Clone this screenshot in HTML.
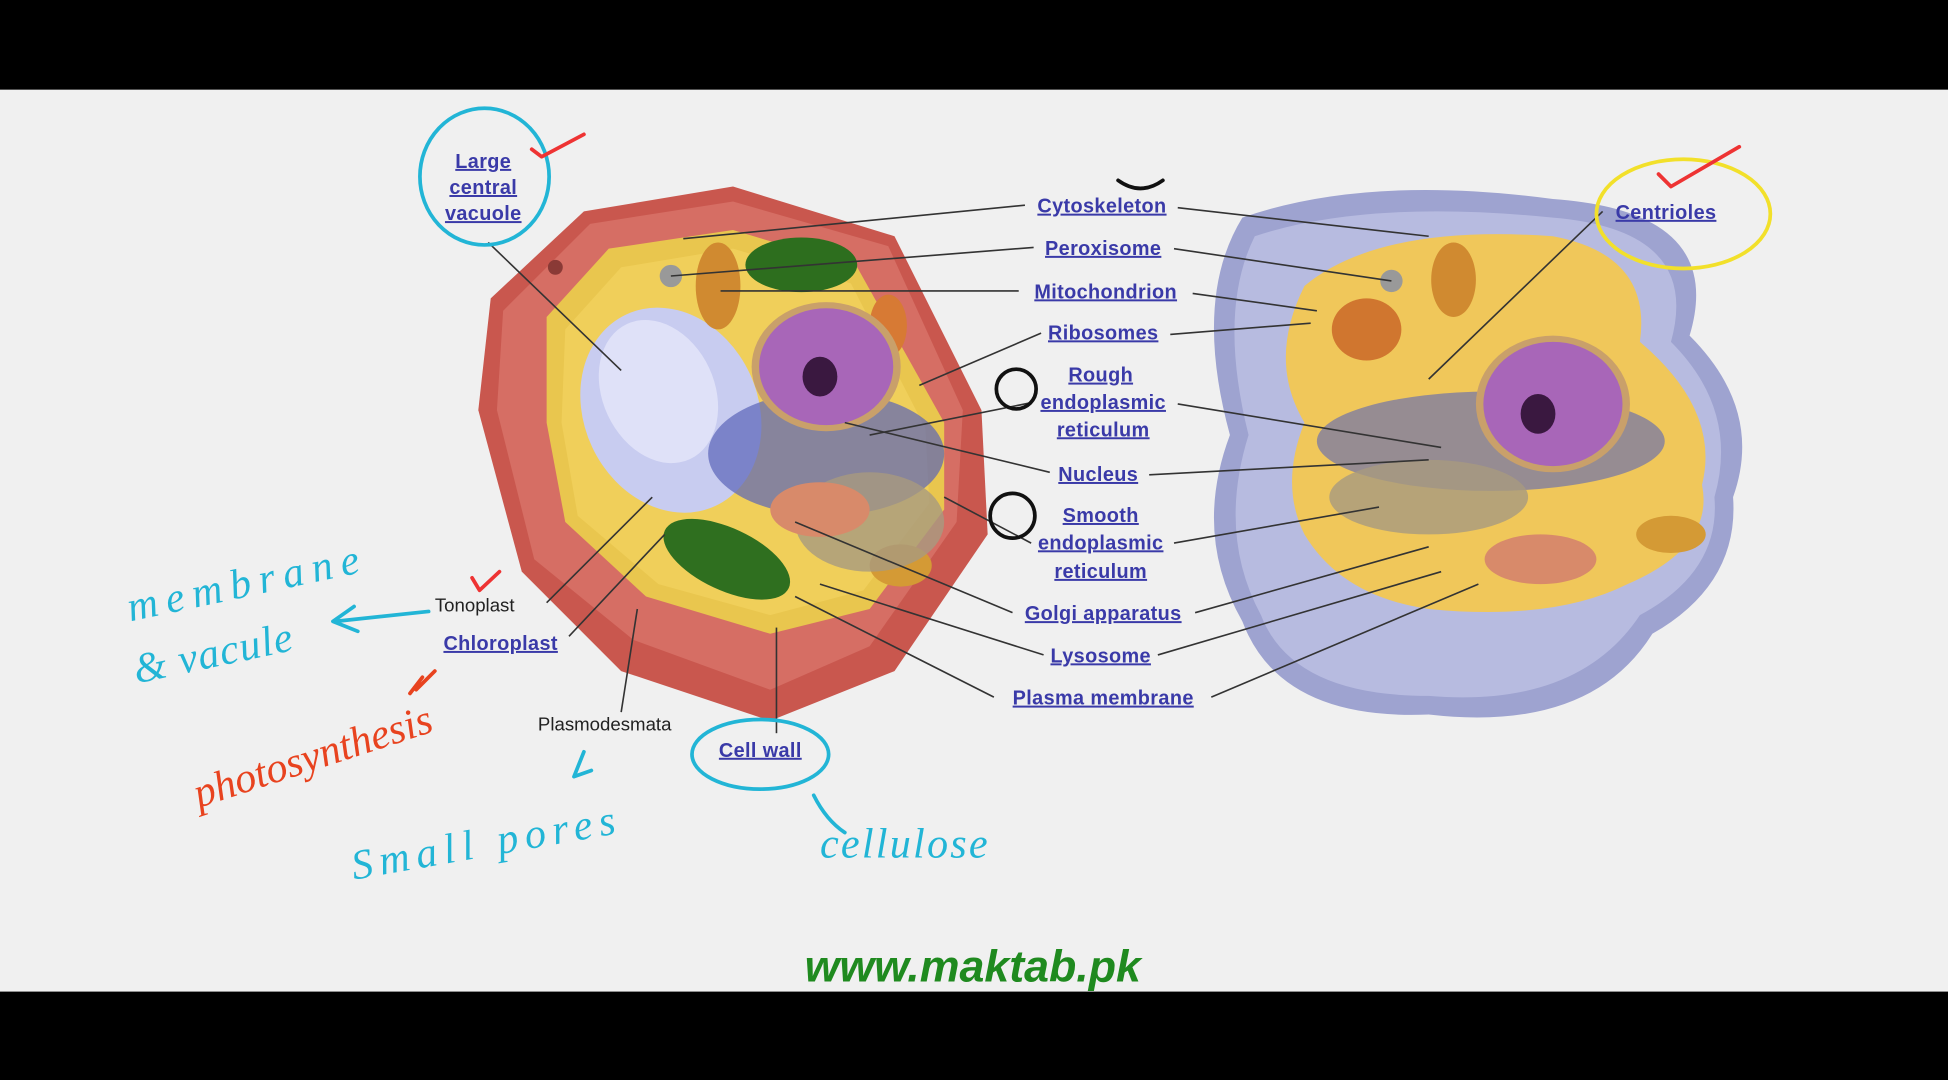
<!DOCTYPE html>
<html><head><meta charset="utf-8"><style>
html,body{margin:0;padding:0;background:#000;width:1948px;height:1080px;overflow:hidden}
svg{display:block}
.l{font-family:"Liberation Sans",sans-serif;font-size:16px;fill:#3a3aa8;text-decoration:underline;font-weight:bold;letter-spacing:0.3px}
.k{font-family:"Liberation Sans",sans-serif;font-size:15px;fill:#222}
.ln{stroke:#333;stroke-width:1.3;fill:none}
.hw{fill:none;stroke-width:3;stroke-linecap:round;stroke-linejoin:round}
.ht{font-family:"Liberation Serif",serif;font-style:italic;font-size:34px}
</style></head><body>
<svg width="1948" height="1080" viewBox="0 0 1568 869" xmlns="http://www.w3.org/2000/svg">
<rect x="0" y="72" width="1568" height="726" fill="#f0f0f0"/>
<!-- plant cell -->
<polygon points="395,240 470,170 590,150 720,190 790,330 795,430 720,540 620,580 500,540 420,460 385,330" fill="#c9574e"/>
<polygon points="405,250 475,180 590,162 715,198 775,330 770,420 700,520 620,555 510,515 430,450 400,330" fill="#d66e64"/>
<polygon points="440,255 490,200 590,185 690,215 760,340 760,410 700,490 620,510 520,480 455,420 440,340" fill="#e9c64e"/>
<polygon points="455,265 500,215 590,200 685,228 745,345 748,405 695,475 620,495 530,470 465,415 452,340" fill="#f0cf5a"/>
<ellipse cx="540" cy="330" rx="70" ry="85" transform="rotate(-25 540 330)" fill="#c8ccf0"/>
<ellipse cx="530" cy="315" rx="45" ry="60" transform="rotate(-25 530 315)" fill="#dfe1f8"/>
<ellipse cx="645" cy="213" rx="45" ry="22" fill="#2d6e1e"/>
<ellipse cx="585" cy="450" rx="55" ry="25" transform="rotate(25 585 450)" fill="#2f6f1f"/>
<ellipse cx="578" cy="230" rx="18" ry="35" fill="#d08a30"/>
<ellipse cx="715" cy="262" rx="15" ry="25" fill="#d77a34"/>
<ellipse cx="725" cy="455" rx="25" ry="17" fill="#d49a35"/>
<ellipse cx="665" cy="365" rx="95" ry="50" fill="#5a64b8" opacity=".7"/>
<ellipse cx="700" cy="420" rx="60" ry="40" fill="#a89a80" opacity=".8"/>
<ellipse cx="665" cy="295" rx="60" ry="52" fill="#c9a06a"/>
<ellipse cx="665" cy="295" rx="54" ry="47" fill="#a866b8"/>
<ellipse cx="660" cy="303" rx="14" ry="16" fill="#3a1840"/>
<ellipse cx="660" cy="410" rx="40" ry="22" fill="#d88a6a"/>
<circle cx="540" cy="222" r="9" fill="#999"/>
<circle cx="447" cy="215" r="6" fill="#8a3a36"/>
<!-- animal cell -->
<path d="M1000,175 Q1100,140 1250,160 Q1390,170 1360,270 Q1420,330 1395,400 Q1400,470 1330,510 Q1280,590 1150,575 Q1030,580 1000,500 Q960,430 990,350 Q960,240 1000,175Z" fill="#9ea3d0"/>
<path d="M1010,190 Q1100,160 1250,175 Q1370,185 1345,275 Q1400,330 1380,400 Q1385,460 1320,495 Q1270,570 1150,560 Q1040,560 1015,495 Q980,430 1005,350 Q980,250 1010,190Z" fill="#b7bbe0"/>
<path d="M1050,230 Q1110,180 1250,190 Q1330,205 1320,275 Q1385,330 1370,390 Q1380,440 1310,470 Q1250,500 1150,490 Q1080,480 1050,430 Q1030,390 1050,340 Q1020,290 1050,230Z" fill="#f0c75a"/>
<ellipse cx="1100" cy="265" rx="28" ry="25" fill="#d0762f"/>
<ellipse cx="1170" cy="225" rx="18" ry="30" fill="#d08a30"/>
<ellipse cx="1200" cy="355" rx="140" ry="40" fill="#5a64b8" opacity=".6"/>
<ellipse cx="1250" cy="325" rx="62" ry="55" fill="#c9a06a"/>
<ellipse cx="1250" cy="325" rx="56" ry="50" fill="#a866b8"/>
<ellipse cx="1238" cy="333" rx="14" ry="16" fill="#3a1840"/>
<ellipse cx="1150" cy="400" rx="80" ry="30" fill="#a89a80" opacity=".8"/>
<ellipse cx="1240" cy="450" rx="45" ry="20" fill="#d88a6a"/>
<ellipse cx="1345" cy="430" rx="28" ry="15" fill="#d49a35"/>
<circle cx="1120" cy="226" r="9" fill="#999"/>
<!-- leader lines -->
<g class="ln">
<path d="M825,165 L550,192"/><path d="M948,167 L1150,190"/>
<path d="M832,199 L540,222"/><path d="M945,200 L1120,226"/>
<path d="M820,234 L580,234"/><path d="M960,236 L1060,250"/>
<path d="M838,268 L740,310"/><path d="M942,269 L1055,260"/>
<path d="M830,324 L700,350"/><path d="M948,325 L1160,360"/>
<path d="M845,380 L680,340"/><path d="M925,382 L1150,370"/>
<path d="M830,437 L760,400"/><path d="M945,437 L1110,408"/>
<path d="M815,493 L640,420"/><path d="M962,493 L1150,440"/>
<path d="M840,527 L660,470"/><path d="M932,527 L1160,460"/>
<path d="M800,561 L640,480"/><path d="M975,561 L1190,470"/>
<path d="M1290,170 L1150,305"/>
<path d="M393,195 L500,298"/>
<path d="M440,485 L525,400"/>
<path d="M458,512 L535,430"/>
<path d="M500,573 L513,490"/>
<path d="M625,590 L625,505"/>
</g>
<!-- labels -->
<g class="l" text-anchor="middle">
<text x="887" y="171">Cytoskeleton</text>
<text x="888" y="205">Peroxisome</text>
<text x="890" y="240">Mitochondrion</text>
<text x="888" y="273">Ribosomes</text>
<text x="886" y="307">Rough</text><text x="888" y="329">endoplasmic</text><text x="888" y="351">reticulum</text>
<text x="884" y="387">Nucleus</text>
<text x="886" y="420">Smooth</text><text x="886" y="442">endoplasmic</text><text x="886" y="465">reticulum</text>
<text x="888" y="499">Golgi apparatus</text>
<text x="886" y="533">Lysosome</text>
<text x="888" y="567">Plasma membrane</text>
<text x="1341" y="176">Centrioles</text>
<text x="389" y="135">Large</text><text x="389" y="156">central</text><text x="389" y="177">vacuole</text>
<text x="403" y="523">Chloroplast</text>
<text x="612" y="609">Cell wall</text>
</g>
<text class="k" x="350" y="492">Tonoplast</text>
<text class="k" x="433" y="588">Plasmodesmata</text>
<!-- handwriting -->
<ellipse cx="390" cy="142" rx="52" ry="55" class="hw" stroke="#22b5d6"/>
<ellipse cx="1355" cy="172" rx="70" ry="44" class="hw" stroke="#f2e02a"/>
<ellipse cx="612" cy="607" rx="55" ry="28" class="hw" stroke="#22b5d6"/>
<path d="M428,120 L436,126 L470,108" class="hw" stroke="#e33" />
<path d="M1335,140 L1345,150 L1400,118" class="hw" stroke="#e33"/>
<path d="M380,465 L386,475 L402,460" class="hw" stroke="#e33" stroke-width="2"/>
<path d="M900,145 Q918,158 936,145" class="hw" stroke="#111" stroke-width="2"/>
<circle cx="818" cy="313" r="16" class="hw" stroke="#111" stroke-width="2"/>
<circle cx="815" cy="415" r="18" class="hw" stroke="#111" stroke-width="2"/>
<path d="M345,492 L270,500 M285,488 L268,500 L288,508" class="hw" stroke="#22b5d6"/>
<text class="ht" x="105" y="500" fill="#22b5d6" transform="rotate(-12 105 500)" textLength="190">membrane</text>
<text class="ht" x="110" y="550" fill="#22b5d6" transform="rotate(-12 110 550)" textLength="130">&amp; vacule</text>
<text class="ht" x="160" y="650" fill="#e8431f" transform="rotate(-18 160 650)" textLength="200">photosynthesis</text>
<path d="M335,555 L350,540 M340,545 L330,558" class="hw" stroke="#e8431f" stroke-width="2"/>
<path d="M470,605 L462,625 L476,620" class="hw" stroke="#22b5d6" stroke-width="2"/>
<text class="ht" x="285" y="708" fill="#22b5d6" transform="rotate(-10 285 708)" textLength="215">Small pores</text>
<path d="M655,640 Q665,660 680,670" class="hw" stroke="#22b5d6"/>
<text class="ht" x="660" y="690" fill="#22b5d6" textLength="135">cellulose</text>
<text x="783" y="790" text-anchor="middle" font-family="Liberation Sans, sans-serif" font-size="36" font-weight="bold" font-style="italic" fill="#1f8a1f">www.maktab.pk</text>
</svg>
</body></html>
